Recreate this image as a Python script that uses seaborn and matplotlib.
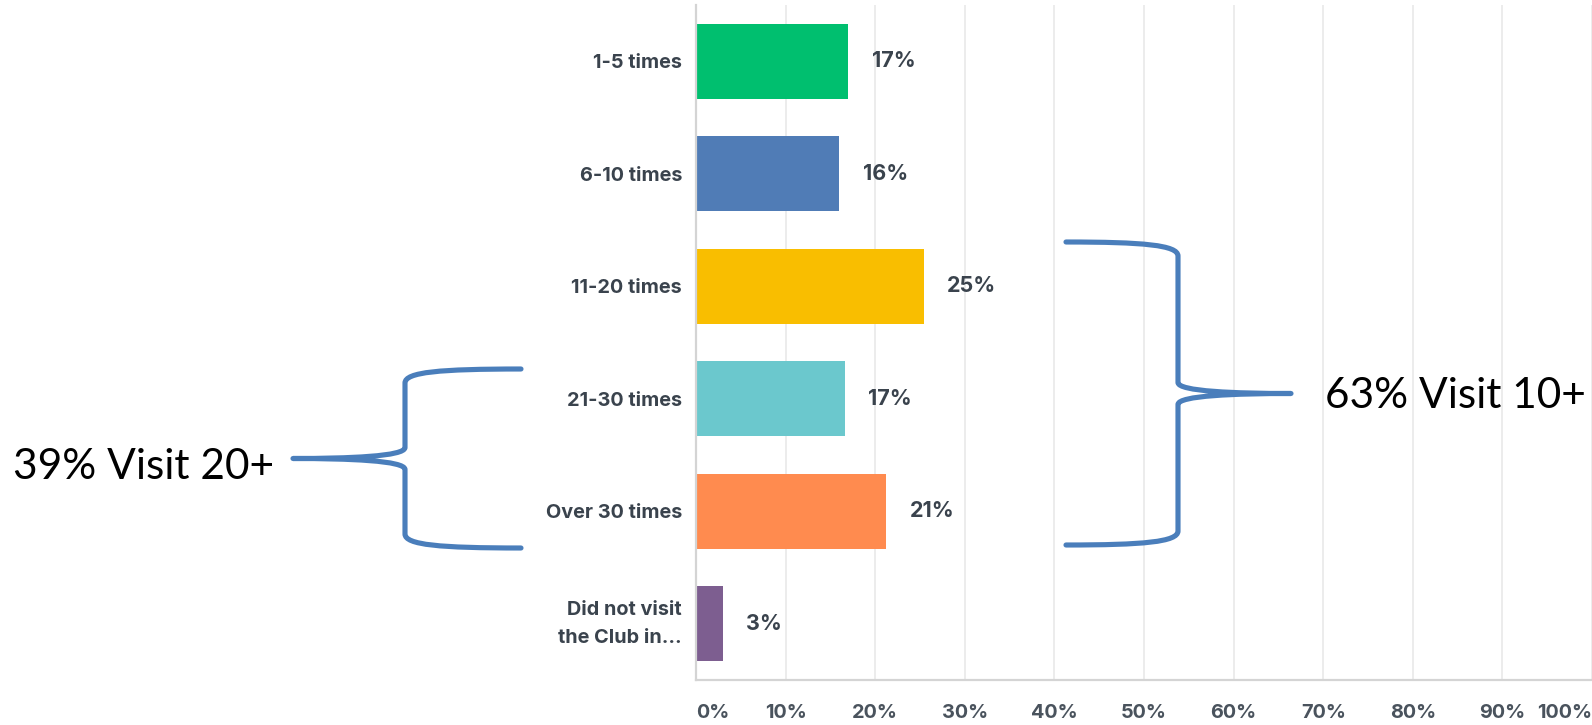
import matplotlib
matplotlib.use("Agg")
import matplotlib.pyplot as plt
from matplotlib.path import Path
from matplotlib.patches import PathPatch
import seaborn as sns
import pandas as pd

# Survey responses: how often members visited the Club
categories = ["1-5 times", "6-10 times", "11-20 times", "21-30 times",
              "Over 30 times", "Did not visit\nthe Club in…"]
shares = [17.0, 16.0, 25.4, 16.6, 21.2, 3.0]
bar_colors = ["#00BF6F", "#507CB6", "#F9BE00", "#6BC8CD", "#FF8B4F", "#7D5E90"]
x_ticks = [0, 10, 20, 30, 40, 50, 60, 70, 80, 90, 100]
x_tick_labels = [f"{t}%" for t in x_ticks]
group_notes = ["39% Visit 20+", "63% Visit 10+"]

W, H = 1592, 725
sns.set_theme(style="white")
plt.rcParams["font.family"] = ["Inter", "DejaVu Sans"]

fig = plt.figure(figsize=(W / 100, H / 100), dpi=100)
ax = fig.add_axes([696 / W, 45 / H, 896 / W, 675 / H])

df = pd.DataFrame({"category": categories, "share": shares})
sns.barplot(data=df, x="share", y="category", hue="category", palette=bar_colors,
            width=0.667, saturation=1, legend=False, linewidth=0, ax=ax)

text_color = "#3a434d"
tick_color = "#4a535d"
cat_size = 14.3
value_size = 15.5
tick_size = 14.3
ax.set_xlim(0, 100)
ax.set_ylim(len(categories) - 0.5, -0.5)
ax.set_xlabel("")
ax.set_ylabel("")
ax.set_xticks(x_ticks)
ax.set_xticklabels(x_tick_labels)
ax.tick_params(axis="x", length=0, pad=17, labelsize=tick_size, labelcolor=tick_color)
ax.tick_params(axis="y", length=0, pad=10, labelsize=cat_size, labelcolor=text_color)
for lab in ax.get_xticklabels() + ax.get_yticklabels():
    lab.set_fontweight("bold")
for lab in ax.get_yticklabels():
    lab.set_horizontalalignment("right")
    if "\n" in lab.get_text():
        lab.set_linespacing(1.7)
        lab.set_verticalalignment("center")
xl = ax.get_xticklabels()
xl[0].set_horizontalalignment("left")
xl[-1].set_horizontalalignment("right")

ax.grid(axis="x", color="#ececec", linewidth=1.4)
ax.grid(axis="y", visible=False)
ax.set_axisbelow(True)
for side in ["top", "right"]:
    ax.spines[side].set_visible(False)
for side in ["left", "bottom"]:
    ax.spines[side].set_color("#d4d4d4")
    ax.spines[side].set_linewidth(1.6)

# value labels to the right of each bar
for i, v in enumerate(shares):
    ax.annotate(f"{v:.0f}%", xy=(v, i), xytext=(17, 0), textcoords="offset points",
                ha="left", va="center", fontsize=value_size, fontweight="bold",
                color=text_color)


def px(x, y):
    return (x / W, 1 - y / H)


def brace(x_arm, x_vert, x_tip, y_top, y_bot):
    """Curly brace drawn in figure pixels; arms at x_arm, spine at x_vert, point at x_tip."""
    ym = (y_top + y_bot) / 2
    d = 1 if x_tip < x_vert else -1
    r = 14
    t = 11
    verts = [
        (x_arm, y_top),
        (x_vert + d * 35, y_top), (x_vert, y_top + 3), (x_vert, y_top + r),
        (x_vert, ym - t),
        (x_vert, ym - 2), (x_tip + d * 55, ym), (x_tip, ym),
        (x_tip + d * 55, ym), (x_vert, ym + 2), (x_vert, ym + t),
        (x_vert, y_bot - r),
        (x_vert, y_bot - 3), (x_vert + d * 35, y_bot), (x_arm, y_bot),
    ]
    codes = [Path.MOVETO,
             Path.CURVE4, Path.CURVE4, Path.CURVE4,
             Path.LINETO,
             Path.CURVE4, Path.CURVE4, Path.CURVE4,
             Path.CURVE4, Path.CURVE4, Path.CURVE4,
             Path.LINETO,
             Path.CURVE4, Path.CURVE4, Path.CURVE4]
    path = Path([px(*v) for v in verts], codes)
    fig.add_artist(PathPatch(path, transform=fig.transFigure, facecolor="none",
                             edgecolor="#4A7EBB", linewidth=3.7, capstyle="round",
                             joinstyle="round"))


brace(521, 405, 293, 369, 548)
brace(1066, 1178, 1291, 242, 545)

fig.text(*px(13, 467), group_notes[0], ha="left", va="center", fontsize=30.5,
         color="black", family=["Lato", "DejaVu Sans"])
fig.text(*px(1325, 396), group_notes[1], ha="left", va="center", fontsize=30.5,
         color="black", family=["Lato", "DejaVu Sans"])

fig.savefig("out.png", dpi=100, facecolor="white")
